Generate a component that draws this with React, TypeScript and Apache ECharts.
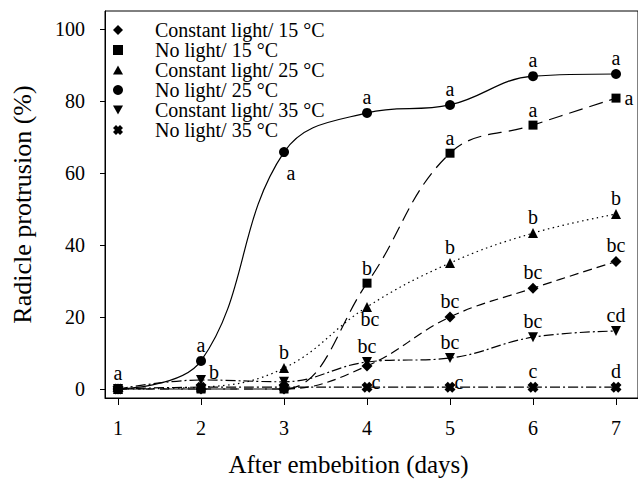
import React, { useEffect, useRef } from "react";
import * as echarts from "echarts";

// ---- data ----
const days = [1, 2, 3, 4, 5, 6, 7];
const seriesNames = [
  "Constant light/ 15 °C",
  "No light/ 15 °C",
  "Constant light/ 25 °C",
  "No light/ 25 °C",
  "Constant light/ 35 °C",
  "No light/ 35 °C",
];
const cl15 = [0, 0, 0, 6.4, 20, 28, 35.4];
const nl15 = [0, 0, 0, 29.4, 65.5, 73.3, 80.8];
const cl25 = [0, 0.5, 5.8, 22.8, 35, 43.3, 48.6];
const nl25 = [0, 7.8, 65.8, 76.7, 78.9, 86.9, 87.5];
const cl35 = [0, 2.5, 2, 7.5, 8.6, 14.4, 16.1];
const nl35 = [0, 0.5, 0.5, 0.5, 0.5, 0.5, 0.5];

const cl15Letters = ["", "", "", "", "bc", "bc", "bc"];
const nl15Letters = ["", "", "", "b", "a", "a", "a"];
const cl25Letters = ["", "", "b", "bc", "b", "b", "b"];
const nl25Letters = ["a", "a", "a", "a", "a", "a", "a"];
const cl35Letters = ["", "b", "", "bc", "bc", "bc", "cd"];
const nl35Letters = ["", "", "", "c", "c", "c", "d"];

const yTicks = [0, 20, 40, 60, 80, 100];

// ---- placement / style (not data) ----
const cl15Place = ["top", "top", "top", "top", "top", "top", "top"];
const nl15Place = ["top", "top", "top", "top", "top", "top", "right"];
const cl25Place = ["top", "top", "top", "bottomShift", "top", "top", "top"];
const nl25Place = ["top", "top", "bottomRight", "top", "top", "top", "top"];
const cl35Place = ["top", "rightUp", "top", "top", "top", "top", "top"];
const nl35Place = ["top", "top", "top", "rightUpX", "rightUpX", "top", "top"];

const FONT = "Liberation Serif";

const SYM_X =
  "path://M0,3 L3,0 L5,2 L7,0 L10,3 L8,5 L10,7 L7,10 L5,8 L3,10 L0,7 L2,5 Z";
const SYM_TRI_DOWN = "path://M0,0 L10,0 L5,9 Z";
const SYM_DIAMOND = "path://M5,0 L10,5 L5,10 L0,5 Z";
const SYM_RECT = "path://M0,0 L10,0 L10,10 L0,10 Z";
const SYM_TRI = "path://M5,0 L10,9 L0,9 Z";

function placeLabel(p: string) {
  switch (p) {
    case "right":
      return { position: "right", distance: 4 };
    case "rightUp":
      return { position: "right", distance: 3, offset: [0, -8] };
    case "rightUpX":
      return { position: "right", distance: 1, offset: [-2, -5] };
    case "bottomRight":
      return { position: "bottom", distance: 2, offset: [7, 5] };
    case "bottomShift":
      return { position: "bottom", distance: 1, offset: [3, -3] };
    default:
      return { position: "top", distance: 2 };
  }
}

function buildData(vals: number[], letters: string[], places: string[]) {
  return vals.map((v, i) => ({
    value: [days[i], v],
    label: letters[i]
      ? {
          show: true,
          formatter: letters[i],
          ...placeLabel(places[i]),
        }
      : { show: false },
  }));
}

export default function App() {
  const ref = useRef<HTMLDivElement>(null);
  useEffect(() => {
    if (!ref.current) return;
    const chart = echarts.init(ref.current, undefined, { renderer: "svg" });
    const labelStyle = {
      color: "#000",
      fontFamily: FONT,
      fontSize: 20,
      lineHeight: 18,
    };
    const mk = (
      name: string,
      vals: number[],
      letters: string[],
      places: string[],
      symbol: string,
      symbolSize: number,
      lineType: any
    ) => ({
      name,
      type: "line",
      data: buildData(vals, letters, places),
      symbol,
      symbolSize,
      smooth: 0.4,
      itemStyle: { color: "#000" },
      lineStyle: { color: "#000", width: 1.2, type: lineType },
      label: labelStyle,
      emphasis: { disabled: true },
    });
    const series = [
      mk(seriesNames[0], cl15, cl15Letters, cl15Place, "diamond", 11, [9, 5]),
      mk(seriesNames[1], nl15, nl15Letters, nl15Place, "rect", 9, [14, 7]),
      mk(seriesNames[2], cl25, cl25Letters, cl25Place, "triangle", 10, [1.5, 3.5]),
      mk(seriesNames[3], nl25, nl25Letters, nl25Place, "circle", 10, "solid"),
      mk(seriesNames[4], cl35, cl35Letters, cl35Place, SYM_TRI_DOWN, 10, [10, 3, 2, 3]),
      mk(seriesNames[5], nl35, nl35Letters, nl35Place, SYM_X, 11, [10, 3, 2, 3]),
    ];
    const icons = [SYM_DIAMOND, SYM_RECT, SYM_TRI, "circle", SYM_TRI_DOWN, SYM_X];
    chart.setOption({
      animation: false,
      backgroundColor: "#fff",
      grid: {
        left: 105,
        top: 11,
        right: 0,
        bottom: 88,
        show: true,
        borderColor: "#000",
        borderWidth: 1,
      },
      legend: {
        orient: "vertical",
        left: 113,
        top: 20,
        padding: 0,
        itemWidth: 10,
        itemHeight: 10,
        itemGap: 0,
        selectedMode: false,
        textStyle: {
          color: "#000",
          fontFamily: FONT,
          fontSize: 20,
          lineHeight: 18,
          padding: [0, 0, 0, 27],
        },
        data: seriesNames.map((n, i) => ({
          name: n,
          icon: icons[i],
          itemStyle: { color: "#000" },
        })),
      },
      xAxis: {
        type: "value",
        min: 0.843,
        max: 7.265,
        name: "After embebition (days)",
        nameLocation: "middle",
        nameGap: 54,
        nameTextStyle: {
          color: "#000",
          fontFamily: FONT,
          fontSize: 25,
          padding: [0, 46, 0, 0],
        },
        axisLine: { show: true, onZero: false, lineStyle: { color: "#000" } },
        axisTick: {
          show: true,
          length: 7,
          customValues: days,
          lineStyle: { color: "#000" },
        },
        axisLabel: {
          customValues: days,
          color: "#000",
          fontFamily: FONT,
          fontSize: 20,
          margin: 20,
        },
        splitLine: { show: false },
      },
      yAxis: {
        type: "value",
        min: -2.5,
        max: 105,
        name: "Radicle protrusion (%)",
        nameLocation: "middle",
        nameGap: 70,
        nameTextStyle: {
          color: "#000",
          fontFamily: FONT,
          fontSize: 26,
        },
        axisLine: { show: true, onZero: false, lineStyle: { color: "#000" } },
        axisTick: {
          show: true,
          length: 5,
          customValues: yTicks,
          lineStyle: { color: "#000" },
        },
        axisLabel: {
          customValues: yTicks,
          color: "#000",
          fontFamily: FONT,
          fontSize: 20,
          margin: 20,
        },
        splitLine: { show: false },
      },
      series,
    });
    return () => chart.dispose();
  }, []);
  return (
    <div
      ref={ref}
      style={{ position: "fixed", left: 0, top: 0, width: 638, height: 486 }}
    />
  );
}
